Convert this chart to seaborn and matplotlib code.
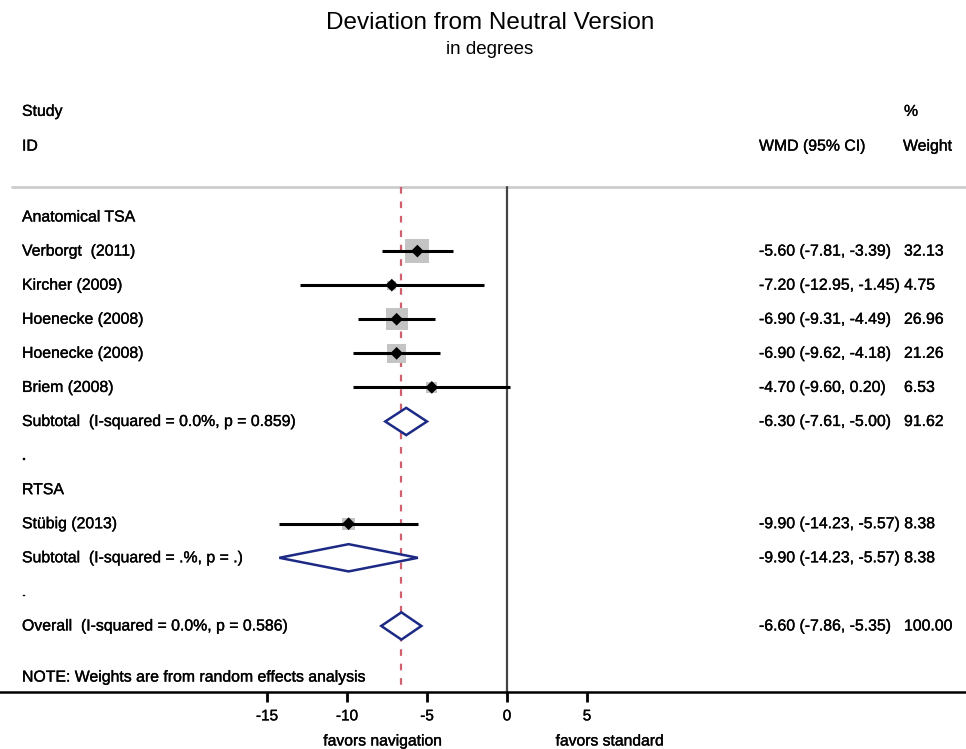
import numpy as np
import pandas as pd
import matplotlib
matplotlib.use("Agg")
import matplotlib.pyplot as plt
import matplotlib.patheffects as pe
import seaborn as sns

# Datos del forest plot
studies = ["Verborgt  (2011)", "Kircher (2009)", "Hoenecke (2008)", "Hoenecke (2008)",
           "Briem (2008)", "Stübig (2013)"]
study_rows = [1, 2, 3, 4, 5, 9]
wmd = [-5.60, -7.20, -6.90, -6.90, -4.70, -9.90]
ci_lo = [-7.81, -12.95, -9.31, -9.62, -9.60, -14.23]
ci_hi = [-3.39, -1.45, -4.49, -4.18, 0.20, -5.57]
weights = [32.13, 4.75, 26.96, 21.26, 6.53, 8.38]

pooled_labels = ["Subtotal  (I-squared = 0.0%, p = 0.859)",
                 "Subtotal  (I-squared = .%, p = .)",
                 "Overall  (I-squared = 0.0%, p = 0.586)"]
pooled_rows = [6, 10, 12]
pooled_est = [-6.30, -9.90, -6.60]
pooled_lo = [-7.61, -14.23, -7.86]
pooled_hi = [-5.00, -5.57, -5.35]
pooled_w = [91.62, 8.38, 100.00]

other_labels = ["Anatomical TSA", ".", "RTSA", "."]
other_rows = [0, 7, 8, 11]

xticks = [-15, -10, -5, 0, 5]
overall_est = -6.6

df = pd.DataFrame({"study": studies, "row": study_rows, "wmd": wmd,
                   "lo": ci_lo, "hi": ci_hi, "w": weights})

sns.set_style("white")
plt.rcParams["font.family"] = ["Liberation Sans", "DejaVu Sans"]
plt.rcParams["text.color"] = "black"
plt.rcParams["xtick.color"] = "black"

W, H = 966, 749
fig = plt.figure(figsize=(W / 100, H / 100), dpi=100)
# eje que ocupa todo el ancho; la línea inferior es el eje x
ax = fig.add_axes([0, (H - 692) / H, 1, 692 / H])
row_px, row0_px = 34.08, 217
ax.set_xlim(-507 / 16, (W - 507) / 16)
ax.set_ylim((692 - row0_px) / row_px, -row0_px / row_px)
top_row = (187 - row0_px) / row_px
bottom_row = ax.get_ylim()[0]

fs = 11.4
bold = [pe.withStroke(linewidth=0.25, foreground="black")]

for s in ["top", "left", "right"]:
    ax.spines[s].set_visible(False)
ax.spines["bottom"].set_linewidth(1.8)
ax.spines["bottom"].set_color("black")
ax.set_yticks([])
ax.set_xticks(xticks)
ax.set_xticklabels([str(t) for t in xticks], fontsize=11)
ax.tick_params(axis="x", bottom=True, direction="out", length=7.5, width=2, pad=5,
               color="black")
for t in ax.get_xticklabels():
    t.set_path_effects(bold)

# línea separadora
ax.plot([12 / 16 - 507 / 16, (W - 507) / 16], [top_row, top_row], color="#cccccc", lw=2,
        clip_on=False)
# líneas verticales
ax.plot([0, 0], [top_row, bottom_row], color="#444444", lw=1.6)
ax.plot([overall_est, overall_est], [top_row, bottom_row], color="#d0606e", lw=1.6,
        ls=(0, (3, 3.5)))

# intervalos de confianza
ax.hlines(df["row"], df["lo"], df["hi"], color="black", lw=2.2, zorder=3)
# cajas de peso
sns.scatterplot(data=df, x="wmd", y="row", marker="s", s=df["w"] * 9.3, color="#c4c4c4",
                edgecolor="none", ax=ax, zorder=2, legend=False)
sns.scatterplot(data=df, x="wmd", y="row", marker="D", s=42, color="black",
                edgecolor="none", ax=ax, zorder=4, legend=False)
ax.set_xlabel("")
ax.set_ylabel("")

# rombos combinados
for r, e, lo, hi in zip(pooled_rows, pooled_est, pooled_lo, pooled_hi):
    ax.fill([lo, e, hi, e, lo], [r, r - 0.4, r, r + 0.4, r], facecolor="white",
            edgecolor="#1c2a85", lw=1.8, zorder=5)

xl = ax.get_xlim()[0] + 22 / 16
x_wmd = (759 - 507) / 16
x_w = (904 - 507) / 16


def txt(x, y, s, **kw):
    ax.text(x, y, s, fontsize=fs, va="center", ha="left", path_effects=bold, **kw)


for lab, r in zip(other_labels, other_rows):
    txt(xl, r, lab)
for lab, r in zip(studies, study_rows):
    txt(xl, r, lab)
for lab, r in zip(pooled_labels, pooled_rows):
    txt(xl, r, lab)


def fmt(v):
    return f"{v:.2f}"


rows_all = study_rows + pooled_rows
est_all = wmd + pooled_est
lo_all = ci_lo + pooled_lo
hi_all = ci_hi + pooled_hi
w_all = weights + pooled_w
for r, e, lo, hi, w in zip(rows_all, est_all, lo_all, hi_all, w_all):
    ci = f"{fmt(e)} ({fmt(lo)}, {fmt(hi)})"
    if len(ci) >= 21:
        txt(x_wmd, r, ci + " " + fmt(w))
    else:
        txt(x_wmd, r, ci)
        txt(x_w, r, fmt(w))

# encabezados
txt(xl, -3.1, "Study")
txt(xl, -2.08, "ID")
txt(x_wmd, -2.08, "WMD (95% CI)")
txt(x_w - 1 / 16, -2.08, "Weight")
txt(x_w, -3.1, "%")
txt(xl, 13.5, "NOTE: Weights are from random effects analysis")

# etiquetas bajo el eje
fig.text(383 / W, 1 - 741 / H, "favors navigation", fontsize=11.3, ha="center",
         va="center", path_effects=bold)
fig.text(610 / W, 1 - 741 / H, "favors standard", fontsize=11.3, ha="center",
         va="center", path_effects=bold)

fig.text(490 / W, 1 - 23 / H, "Deviation from Neutral Version", fontsize=17.5,
         ha="center", va="center")
fig.text(490 / W, 1 - 49 / H, "in degrees", fontsize=13.5, ha="center", va="center")

fig.savefig("out.png", dpi=100)
